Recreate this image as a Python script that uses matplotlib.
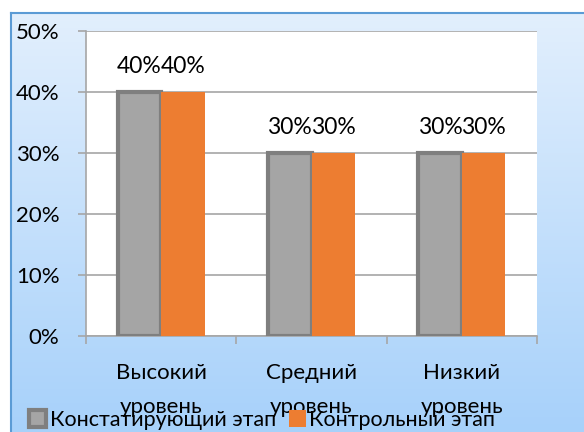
import numpy as np
import matplotlib
matplotlib.use("Agg")
import matplotlib.pyplot as plt
from matplotlib.colors import LinearSegmentedColormap

plt.rcParams['font.family'] = ['Lato', 'Open Sans', 'DejaVu Sans']

categories = ['Высокий\nуровень', 'Средний\nуровень', 'Низкий\nуровень']
stage_names = ['Констатирующий этап', 'Контрольный этап']
stating = [40, 30, 30]
control = [40, 30, 30]
yticks = [0, 10, 20, 30, 40, 50]

W, H = 584, 432
fig = plt.figure(figsize=(W / 100, H / 100), dpi=100)

# chart area background: vertical gradient with a blue frame
bg = fig.add_axes([11 / W, 0, 1 - 11 / W, 1 - 13 / H])
cmap = LinearSegmentedColormap.from_list('bg', ['#e2effd', '#a7d1fa'])
grad = np.linspace(0, 1, 256).reshape(-1, 1)
bg.imshow(grad, aspect='auto', cmap=cmap, extent=[0, 1, 0, 1], origin='upper')
bg.set_xlim(0, 1)
bg.set_ylim(0, 1)
bg.set_xticks([])
bg.set_yticks([])
for s in ['right', 'bottom']:
    bg.spines[s].set_visible(False)
for s in ['left', 'top']:
    bg.spines[s].set_color('#5b9bd5')
    bg.spines[s].set_linewidth(1.5)

ax = fig.add_axes([86 / W, 1 - 336 / H, (537 - 86) / W, (336 - 31) / H])
ax.set_facecolor('white')

x = np.arange(len(categories))
bw = 0.29
ax.bar(x - bw / 2, stating, bw, color='#a5a5a5', edgecolor='#7f7f7f',
       linewidth=3, label=stage_names[0], zorder=3)
ax.bar(x + bw / 2, control, bw, color='#ed7d31', linewidth=0,
       label=stage_names[1], zorder=3)

for xi, v in zip(x, stating):
    ax.text(xi - bw / 2, v + 4.2, f'{v}%', ha='center', va='center', fontsize=16.5)
for xi, v in zip(x, control):
    ax.text(xi + bw / 2, v + 4.2, f'{v}%', ha='center', va='center', fontsize=16.5)

ax.set_xlim(-0.5, 2.5)
ax.set_ylim(0, 50)
ax.set_yticks(yticks)
ax.set_yticklabels([f'{t}%' for t in yticks], fontsize=16)
ax.yaxis.grid(True, color='#a6a6a6', linewidth=1.2, zorder=0)
ax.tick_params(axis='y', length=6, color='#a6a6a6', width=1.2, pad=13)

ax.set_xticks([-0.5, 0.5, 1.5, 2.5])
ax.set_xticklabels([])
ax.tick_params(axis='x', length=6, color='#a6a6a6', width=1.2)
# category names in two lines; the second line runs under the legend, as in the original
for xi, c in zip(x, categories):
    ax.text(xi, -4.5, c, ha='center', va='top', fontsize=16, linespacing=1.85)

for s in ['top', 'right']:
    ax.spines[s].set_visible(False)
for s in ['left', 'bottom']:
    ax.spines[s].set_color('#a6a6a6')
    ax.spines[s].set_linewidth(1.2)

leg = fig.legend(loc='lower left', bbox_to_anchor=(14 / W, -0.03), ncol=2,
                 frameon=False, fontsize=15.5, handlelength=0.8, handleheight=0.8,
                 handletextpad=0.15, columnspacing=0.6, borderpad=0.2)
leg.set_zorder(5)

fig.savefig('out.png', dpi=100)
